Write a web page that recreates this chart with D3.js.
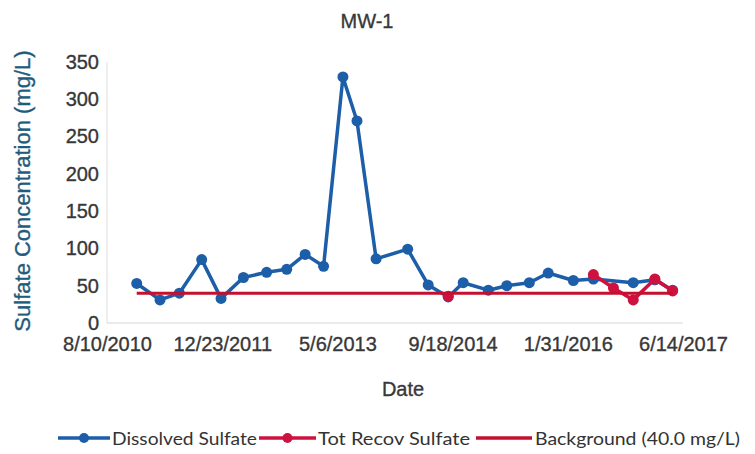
<!DOCTYPE html>
<html>
<head>
<meta charset="utf-8">
<script src="https://cdn.jsdelivr.net/npm/d3@7"></script>
<style>
  body { margin: 0; background: #ffffff; }
  svg { display: block; }
  text { font-family: "Liberation Sans", Arial, sans-serif; fill: #383838; stroke: #383838; stroke-width: 0.35px; }
  .legend text { font-family: Lato, "Open Sans", sans-serif; fill: #333333; stroke: none; }
</style>
</head>
<body>
<div id="chart"></div>
<script>
"use strict";

// data
var sampleDates = [
  "2010-12-17", "2011-03-28", "2011-06-20", "2011-09-25", "2011-12-18",
  "2012-03-24", "2012-07-03", "2012-09-28", "2012-12-17", "2013-03-07",
  "2013-05-30", "2013-07-30", "2013-10-21", "2014-03-07", "2014-06-04",
  "2014-08-30", "2014-11-03", "2015-02-20", "2015-05-11", "2015-08-17",
  "2015-11-07", "2016-02-24", "2016-05-21", "2016-08-16", "2016-11-10",
  "2017-02-12", "2017-04-30"
];
var dissolvedSulfate = [
  53, 31, 40, 85, 33,
  61, 68, 72, 92, 76,
  330, 271, 86, 99, 51,
  35, 54, 44, 50, 54,
  67, 57, 59, null, 54,
  58, 44
];
var totRecovSulfate = [
  null, null, null, null, null,
  null, null, null, null, null,
  null, null, null, null, null,
  36, null, null, null, null,
  null, null, 65, 47, 31,
  59, 43
];
var backgroundValue = 40.0;
var xTickLabels = ["8/10/2010", "12/23/2011", "5/6/2013", "9/18/2014", "1/31/2016", "6/14/2017"];
var yTickValues = [0, 50, 100, 150, 200, 250, 300, 350];
var seriesNames = ["Dissolved Sulfate", "Tot Recov Sulfate", "Background (40.0 mg/L)"];

(function() {
  var Chart;

  Chart = (function() {
    // constructor
    function Chart() {
      // member variables
      this.width = 755;
      this.height = 454;
      this.margin = {top: 62, right: 72, bottom: 131, left: 107};
      this.blue = "#1c5ea8";
      this.red = "#cf1140";
      this.bgRed = "#c4102f";
      this.parse = d3.timeParse("%Y-%m-%d");
      this.parseTick = d3.timeParse("%m/%d/%Y");
    }

    // member functions
    Chart.prototype.draw = function() {
      var _this = this;
      var svg, g, x, y, innerW, innerH, dates, ticks, line;
      var blueRows, redRows, bgRows;

      innerW = this.width - this.margin.left - this.margin.right;
      innerH = this.height - this.margin.top - this.margin.bottom;

      svg = d3.select("#chart").append("svg")
        .attr("width", this.width)
        .attr("height", this.height);

      dates = sampleDates.map(function(d) { return _this.parse(d); });
      ticks = xTickLabels.map(function(d) { return _this.parseTick(d); });

      x = d3.scaleTime()
        .domain([ticks[0], ticks[ticks.length - 1]])
        .range([0, innerW]);
      y = d3.scaleLinear()
        .domain([0, 350])
        .range([innerH, 0]);

      g = svg.append("g")
        .attr("transform", "translate(" + this.margin.left + "," + this.margin.top + ")");

      // faint plot frame
      g.append("line")
        .attr("x1", 0).attr("x2", 0)
        .attr("y1", 0).attr("y2", innerH)
        .attr("stroke", "#e0e0e0").attr("stroke-width", 1);
      g.append("line")
        .attr("x1", 0).attr("x2", innerW)
        .attr("y1", innerH).attr("y2", innerH)
        .attr("stroke", "#d6d6d6").attr("stroke-width", 1);

      // axes
      g.append("g")
        .attr("class", "y-axis")
        .call(d3.axisLeft(y).tickValues(yTickValues).tickSize(0).tickPadding(8))
        .call(function(a) { a.select(".domain").remove(); })
        .selectAll("text")
        .style("font-size", "20px")
        .attr("fill", "#383838");

      g.append("g")
        .attr("class", "x-axis")
        .attr("transform", "translate(0," + innerH + ")")
        .call(d3.axisBottom(x).tickValues(ticks).tickSize(0).tickPadding(14)
          .tickFormat(function(d, i) { return xTickLabels[i]; }))
        .call(function(a) { a.select(".domain").remove(); })
        .selectAll("text")
        .style("font-size", "20px")
        .attr("fill", "#383838");

      // axis titles
      svg.append("text")
        .attr("x", 403)
        .attr("y", 396)
        .attr("text-anchor", "middle")
        .style("font-size", "20px")
        .text("Date");

      svg.append("text")
        .attr("transform", "translate(30,191) rotate(-90)")
        .attr("text-anchor", "middle")
        .style("font-size", "22px")
        .style("fill", "#1f5c7c")
        .style("stroke", "#1f5c7c")
        .text("Sulfate Concentration  (mg/L)");

      svg.append("text")
        .attr("x", 367)
        .attr("y", 28)
        .attr("text-anchor", "middle")
        .style("font-size", "20px")
        .text("MW-1");

      // series rows
      blueRows = dates.map(function(d, i) { return {date: d, v: dissolvedSulfate[i]}; });
      redRows = dates.map(function(d, i) { return {date: d, v: totRecovSulfate[i]}; });
      bgRows = dates.map(function(d) { return {date: d, v: backgroundValue}; });

      line = d3.line()
        .defined(function(d) { return d.v !== null; })
        .x(function(d) { return x(d.date); })
        .y(function(d) { return y(d.v); });

      // dissolved sulfate: skip gaps like the spreadsheet does for a connected series
      g.append("path")
        .datum(blueRows.filter(function(d) { return d.v !== null; }))
        .attr("fill", "none")
        .attr("stroke", this.blue)
        .attr("stroke-width", 3.5)
        .attr("stroke-linejoin", "round")
        .attr("d", line);

      g.selectAll(".dot-blue")
        .data(blueRows.filter(function(d) { return d.v !== null; }))
        .enter()
        .append("circle")
        .attr("class", "dot-blue")
        .attr("cx", function(d) { return x(d.date); })
        .attr("cy", function(d) { return y(d.v); })
        .attr("r", 5.5)
        .attr("fill", this.blue);

      g.append("path")
        .datum(redRows)
        .attr("fill", "none")
        .attr("stroke", this.red)
        .attr("stroke-width", 3.5)
        .attr("stroke-linejoin", "round")
        .attr("d", line);

      g.selectAll(".dot-red")
        .data(redRows.filter(function(d) { return d.v !== null; }))
        .enter()
        .append("circle")
        .attr("class", "dot-red")
        .attr("cx", function(d) { return x(d.date); })
        .attr("cy", function(d) { return y(d.v); })
        .attr("r", 5.5)
        .attr("fill", this.red);

      g.append("path")
        .datum(bgRows)
        .attr("fill", "none")
        .attr("stroke", this.bgRed)
        .attr("stroke-width", 3)
        .attr("d", line);

      this.drawLegend(svg);
    };

    Chart.prototype.drawLegend = function(svg) {
      var leg, items;
      leg = svg.append("g").attr("class", "legend");
      items = [
        {name: seriesNames[0], color: this.blue, dot: true, x0: 58, x1: 110, tx: 112, tw: 145},
        {name: seriesNames[1], color: this.red, dot: true, x0: 259, x1: 316, tx: 318, tw: 152},
        {name: seriesNames[2], color: this.bgRed, dot: false, x0: 476, x1: 532, tx: 535, tw: 205}
      ];
      items.forEach(function(it) {
        leg.append("line")
          .attr("x1", it.x0).attr("x2", it.x1)
          .attr("y1", 438).attr("y2", 438)
          .attr("stroke", it.color)
          .attr("stroke-width", 3.5);
        if (it.dot) {
          leg.append("circle")
            .attr("cx", (it.x0 + it.x1) / 2)
            .attr("cy", 438)
            .attr("r", 5)
            .attr("fill", it.color);
        }
        leg.append("text")
          .attr("x", it.tx)
          .attr("y", 445)
          .attr("textLength", it.tw)
          .attr("lengthAdjust", "spacingAndGlyphs")
          .style("font-size", "18px")
          .text(it.name);
      });
    };

    return Chart;
  })();

  window.chart = new Chart();
  window.chart.draw();

}).call(this);
</script>
</body>
</html>
